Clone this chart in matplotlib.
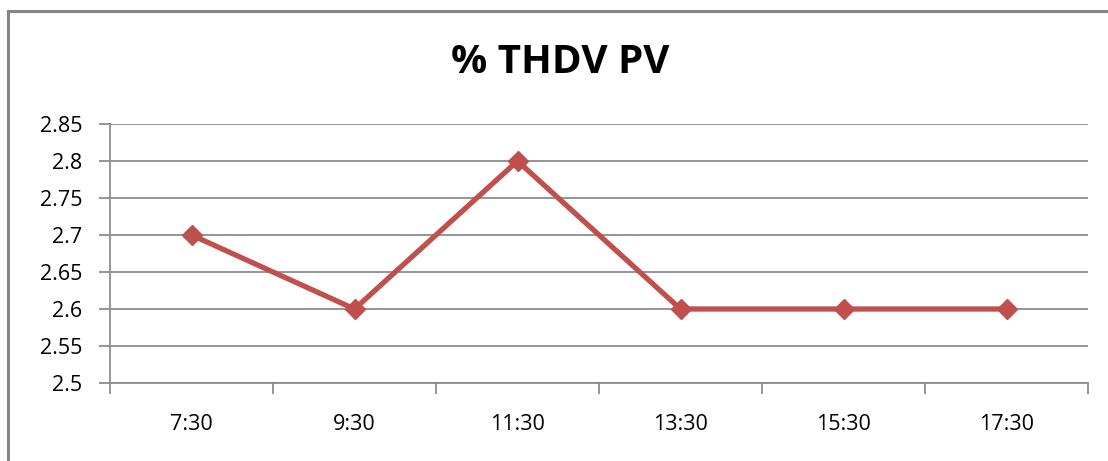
import matplotlib
matplotlib.use("Agg")
import matplotlib.pyplot as plt
from matplotlib.lines import Line2D

plt.rcParams['font.family'] = ['Open Sans', 'DejaVu Sans']

# data
times = ['7:30', '9:30', '11:30', '13:30', '15:30', '17:30']
thdv = [2.7, 2.6, 2.8, 2.6, 2.6, 2.6]
yticks = [2.5, 2.55, 2.6, 2.65, 2.7, 2.75, 2.8, 2.85]

W, H = 1108, 461
fig = plt.figure(figsize=(W / 100, H / 100), dpi=100)
ax = fig.add_axes([110 / W, 1 - 383 / H, (1088 - 110) / W, (383 - 124) / H])

x = list(range(len(times)))
ax.plot(x, thdv, color='#C0504D', lw=3.8, marker='D', markersize=10, zorder=3)

ax.set_xlim(-0.5, len(times) - 0.5)
ax.set_ylim(2.5, 2.85)
ax.set_yticks(yticks)
ax.set_yticklabels([('%g' % v) for v in yticks], fontsize=15.5)
ax.yaxis.grid(True, color='#8C8C8C', lw=1.3)
ax.set_axisbelow(True)

# category labels centred, tick marks between categories
ax.set_xticks(x)
ax.set_xticklabels(times, fontsize=15.5)
ax.tick_params(axis='x', length=0, pad=22)
ax.set_xticks([i - 0.5 for i in range(len(times) + 1)], minor=True)
ax.tick_params(axis='x', which='minor', length=8, width=1.3, color='#8C8C8C')
ax.tick_params(axis='y', length=8, width=1.3, color='#8C8C8C', pad=12)

for s in ['top', 'right']:
    ax.spines[s].set_visible(False)
for s in ['left', 'bottom']:
    ax.spines[s].set_color('#8C8C8C')
    ax.spines[s].set_linewidth(1.3)

fig.text(0.506, 1 - 62 / H, '% THDV PV', ha='center', va='center',
         fontsize=29, fontweight='bold')

# chart area border (cropped)
fig.add_artist(Line2D([8 / W, 8 / W], [0, 1 - 11 / H], transform=fig.transFigure,
                      color='#868686', lw=2.2))
fig.add_artist(Line2D([8 / W, 1], [1 - 11 / H, 1 - 11 / H], transform=fig.transFigure,
                      color='#868686', lw=2.2))

fig.savefig('out.png', dpi=100)
